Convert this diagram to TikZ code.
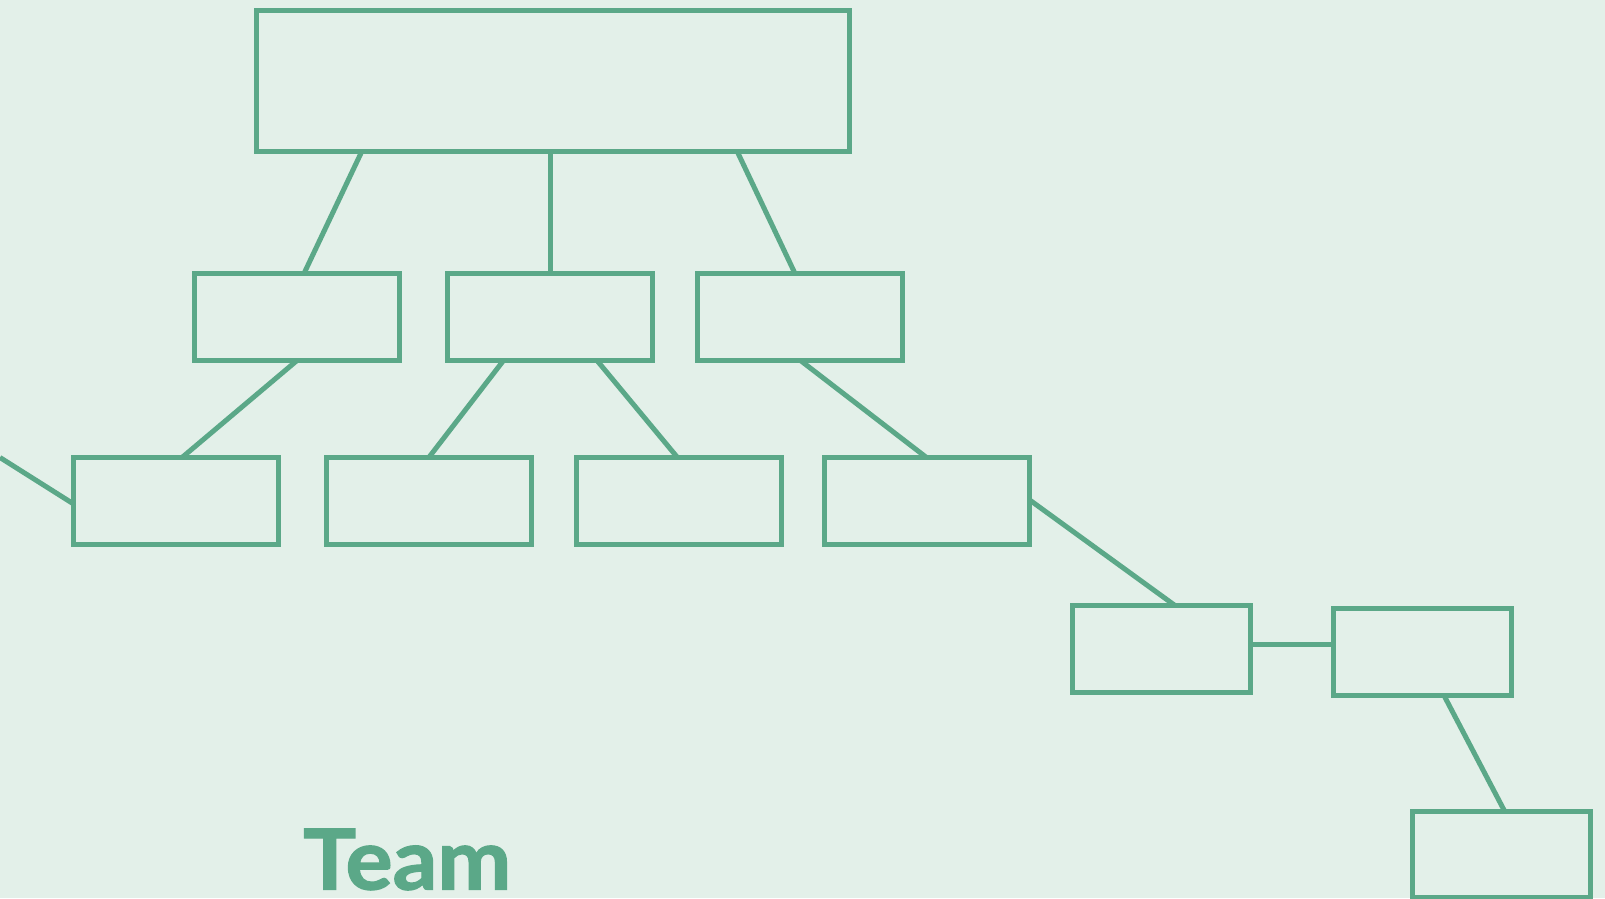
\documentclass[tikz,border=0pt]{standalone}
\usepackage{fontspec}
\newfontfamily\teamfont{Lato}[BoldFeatures={FakeBold=1.5}]
\definecolor{bgc}{RGB}{227,240,233}
\definecolor{lnc}{RGB}{91,168,136}
\begin{document}
\begin{tikzpicture}[x=1pt,y=-1pt,
  box/.style={draw=lnc, line width=5pt, inner sep=0pt, outer sep=0pt, rectangle},
  link/.style={draw=lnc, line width=5pt}]
\fill[bgc] (0,0) rectangle (1605,898);
\useasboundingbox (0,0) rectangle (1605,898);
% boxes
\node[box, minimum width=593pt, minimum height=141pt] (top) at (552.5,80.5) {};
\node[box, minimum width=205pt, minimum height=87pt] (A) at (296.5,317) {};
\node[box, minimum width=205pt, minimum height=87pt] (B) at (550,317) {};
\node[box, minimum width=205pt, minimum height=87pt] (C) at (799.5,317) {};
\node[box, minimum width=205pt, minimum height=87pt] (D) at (175.5,501) {};
\node[box, minimum width=205pt, minimum height=87pt] (E) at (428.8,501) {};
\node[box, minimum width=205pt, minimum height=87pt] (F) at (678.5,501) {};
\node[box, minimum width=205pt, minimum height=87pt] (G) at (926.5,501) {};
\node[box, minimum width=178pt, minimum height=87pt] (H) at (1161.4,649) {};
\node[box, minimum width=178pt, minimum height=87pt] (I) at (1422,652) {};
\node[box, minimum width=178pt, minimum height=86pt] (J) at (1501.5,854) {};
\coordinate (L) at (0,457.5);
% connectors
\draw[link] ([xshift=-190.5pt]top.south) -- ([xshift=7.5pt]A.north);
\draw[link] (B.north |- top.south) -- (B.north);
\draw[link] ([xshift=184.5pt]top.south) -- ([xshift=-4.5pt]C.north);
\draw[link] ([xshift=0.5pt]A.south) -- ([xshift=6.5pt]D.north);
\draw[link] ([xshift=-46.5pt]B.south) -- (E.north);
\draw[link] ([xshift=47pt]B.south) -- ([xshift=-1pt]F.north);
\draw[link] ([xshift=1pt]C.south) -- (G.north);
\draw[link] ([yshift=1.5pt]G.east) -- ([xshift=13.6pt]H.north);
\draw[link] ([yshift=5pt]H.east) -- ([yshift=8pt]I.west);
\draw[link] ([xshift=22pt]I.south) -- ([xshift=3pt]J.north);
\draw[link] (L) -- ([yshift=-2.6pt]D.west);
% title
\node[anchor=base west, inner sep=0pt, text=lnc, xscale=1.05] (team) at (303,889.5)
  {\teamfont\bfseries\fontsize{84}{88}\selectfont Team};
\end{tikzpicture}
\end{document}
